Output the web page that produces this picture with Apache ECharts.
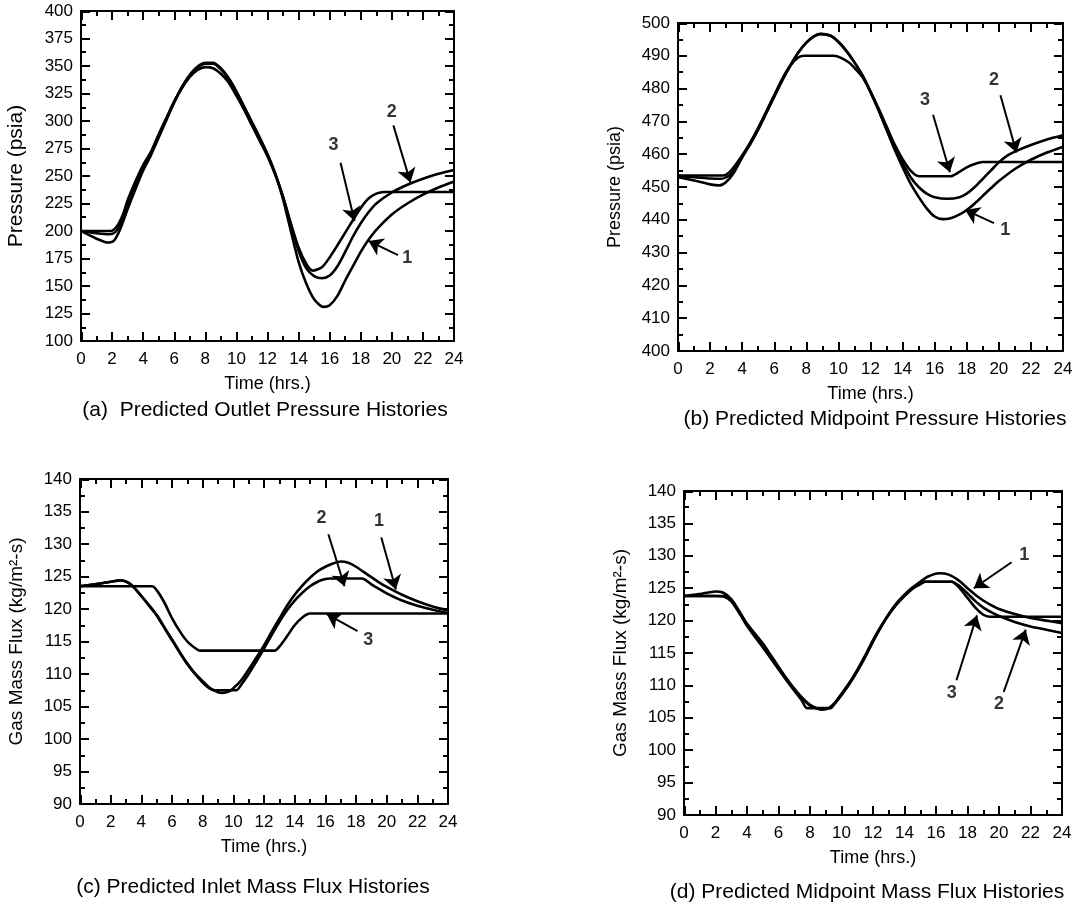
<!DOCTYPE html>
<html>
<head>
  <meta charset="utf-8">
  <title>Predicted Pressure and Mass Flux Histories</title>
  <script src="https://cdn.jsdelivr.net/npm/echarts@6.0.0/dist/echarts.min.js"></script>
  <style>
    html, body { margin: 0; padding: 0; background: #fff; }
    #main { width: 1090px; height: 906px; }
  </style>
</head>
<body>
  <div id="main"></div>
  <script>
    // (a) outlet pressure, psia  [time, value]
    const outlet1 = [[0,200],[0.5,196.5],[1,193],[1.7,189.5],[2.1,191],[2.5,201],[3,220],[3.5,238],[4,255],[4.5,269],[5,285],[5.5,301],[6,317],[6.5,331],[7,342],[7.5,349.5],[8,353],[8.5,353],[9,348],[9.5,339],[10,327],[10.5,313],[11,299],[11.5,285],[12,270],[12.5,252],[13,229],[13.5,200],[14,172],[14.5,152],[15,138],[15.6,131],[16,132.5],[16.5,141],[17,155],[17.5,168],[18,181],[18.5,192],[19,201],[20,215],[21,225],[22,233],[23,239.5],[24,245]];
    const outlet2 = [[0,200],[1,198],[1.8,197],[2.2,199],[2.5,206],[3,225],[3.5,242],[4,258],[4.5,271],[5,287],[5.5,302],[6,317],[6.5,331],[7,341],[7.5,348.5],[8,352],[8.5,352],[9,347],[9.5,338],[10,326],[10.5,312],[11,298],[11.5,284],[12,269],[12.5,252],[13,231],[13.5,206],[14,182],[14.5,166],[15,159],[15.5,157],[16,159.5],[16.5,168],[17,181],[17.5,195],[18,207],[18.5,217],[19,225],[20,235],[21,242],[22,247.5],[23,252],[24,255.5]];
    const outlet3 = [[0,200],[1.9,200],[2.3,204],[2.7,215],[3,228],[3.5,245],[4,260],[4.5,272],[5,288],[5.5,303],[6,318],[6.5,330],[7,340],[7.5,346.5],[8,349],[8.5,348],[9,343],[9.5,335],[10,323],[10.5,310],[11,296],[11.5,282],[12,268],[12.5,251],[13,231],[13.5,207],[14,185],[14.5,170],[14.9,164],[15.5,167],[16,176],[16.5,187],[17,198.5],[17.5,210],[18,221],[18.5,229.5],[19,234],[19.5,235.5],[24,235.5]];

    // (b) midpoint pressure, psia
    const mid1 = [[0,453],[1,452],[2,450.8],[2.6,450.5],[3,451.5],[3.5,454.5],[4,459],[4.5,463],[5,467.5],[5.5,472.5],[6,477.5],[6.5,482.5],[7,487],[7.5,491],[8,494],[8.5,496],[8.9,496.7],[9.5,496.2],[10,494.3],[10.5,491.5],[11,488],[11.5,484],[12,479],[12.5,473.5],[13,467.5],[13.5,461.5],[14,456],[14.5,451],[15,447],[15.5,443.5],[16,441],[16.5,440.2],[17,440.5],[17.5,441.5],[18,443],[18.5,445],[19,447.3],[19.5,449.6],[20,451.8],[21,455.5],[22,458.3],[23,460.5],[24,462.3]];
    const mid2 = [[0,453.3],[1,453],[2,452.6],[2.7,452.5],[3.2,453.5],[3.5,455],[4,459.3],[4.5,463.3],[5,467.8],[5.5,472.7],[6,477.7],[6.5,482.6],[7,487],[7.5,491],[8,494],[8.5,496],[8.9,496.6],[9.5,496.1],[10,494.2],[10.5,491.4],[11,488],[11.5,484],[12,479],[12.5,473.5],[13,467.6],[13.5,462],[14,457.3],[14.5,453],[15,450],[15.5,448],[16,446.9],[16.8,446.4],[17.5,446.8],[18,448],[18.5,450],[19,452.5],[19.5,455],[20,457.5],[20.5,459.5],[21,460.8],[22,462.8],[23,464.5],[24,465.8]];
    const mid3 = [[0,453.5],[2.8,453.5],[3.3,455],[4,459.6],[4.5,463.5],[5,468],[5.5,473],[6,478],[6.5,483],[7,487],[7.5,489.5],[7.9,490],[9.7,490],[10.2,489.3],[10.7,487.8],[11,486.3],[11.5,483.5],[12,479],[12.5,474],[13,468.5],[13.5,463],[14,458.5],[14.5,455],[15,453.3],[17,453.3],[17.5,454.5],[18,456],[18.5,457],[19,457.6],[24,457.6]];

    // (c) inlet mass flux, kg/m2-s
    const inlet1 = [[0,123.5],[1,123.8],[2,124.2],[2.7,124.4],[3.3,123.8],[4,122],[4.5,120.6],[5,119.1],[5.5,117.2],[6,115.3],[6.5,113.4],[7,111.6],[7.5,110.1],[8,108.9],[8.5,107.8],[9,107.2],[9.3,107.1],[9.7,107.3],[10,107.8],[10.5,109],[11,110.7],[11.5,112.5],[12,114.4],[12.5,116.5],[13,118.5],[13.5,120.5],[14,122.2],[14.5,123.6],[15,124.8],[15.5,125.8],[16,126.5],[16.5,127],[17,127.3],[17.5,127.1],[18,126.5],[18.5,125.7],[19,124.9],[19.5,124.1],[20,123.4],[21,122.2],[22,121.2],[23,120.4],[24,119.8]];
    const inlet2 = [[0,123.5],[1,123.8],[2,124.2],[2.7,124.4],[3.3,123.8],[4,122],[4.5,120.5],[5,119],[5.5,117.1],[6,115.2],[6.5,113.3],[7,111.5],[7.5,110],[8,108.7],[8.5,107.7],[8.8,107.5],[10.2,107.5],[10.5,108.3],[11,110],[11.5,111.9],[12,113.9],[12.5,116],[13,118],[13.5,119.8],[14,121.3],[14.5,122.5],[15,123.5],[15.5,124.2],[16,124.6],[16.3,124.7],[18.4,124.7],[19,123.8],[19.5,123.1],[20,122.4],[21,121.3],[22,120.5],[23,119.9],[24,119.4]];
    const inlet3 = [[0,123.5],[4.7,123.5],[5,122.9],[5.5,121],[6,118.6],[6.5,116.6],[7,115],[7.5,114],[7.8,113.6],[12.7,113.6],[13,114.2],[13.5,115.8],[14,117.5],[14.5,118.7],[15,119.3],[24,119.3]];

    // (d) midpoint mass flux, kg/m2-s
    const midFlux1 = [[0,123.8],[1,124.1],[2,124.5],[2.5,124.3],[3,123.3],[3.5,121.5],[4,119.5],[4.5,118],[5,116.5],[5.5,114.7],[6,112.9],[6.5,111.1],[7,109.5],[7.5,108.1],[8,107],[8.5,106.4],[8.8,106.3],[9.2,106.5],[9.6,107.3],[10,108.6],[10.5,110.3],[11,112.2],[11.5,114.4],[12,116.8],[12.5,119],[13,121],[13.5,122.7],[14,124],[14.5,125.1],[15,126],[15.5,126.8],[16.2,127.3],[16.8,127.1],[17.5,126.1],[18,125],[18.5,124],[19,123.1],[19.5,122.4],[20,121.8],[21,121],[22,120.4],[23,120],[24,119.6]];
    const midFlux2 = [[0,123.8],[1,123.8],[2,123.8],[2.5,123.7],[3,123],[3.5,121.3],[4,119.4],[4.5,117.8],[5,116.2],[5.5,114.5],[6,112.7],[6.5,111],[7,109.4],[7.5,108],[8,106.9],[8.5,106.4],[8.8,106.3],[9.2,106.5],[9.6,107.4],[10,108.7],[10.5,110.4],[11,112.4],[11.5,114.6],[12,117],[12.5,119.1],[13,121],[13.5,122.6],[14,123.9],[14.5,125],[15,125.7],[15.3,126],[17,126],[17.5,125.3],[18,124.2],[18.5,123],[19,122],[19.5,121.3],[20,120.7],[21,119.8],[22,119.1],[23,118.6],[24,118.1]];
    const midFlux3 = [[0,123.8],[2.5,123.8],[3,123],[3.5,121.2],[4,119.2],[4.5,117.5],[5,115.9],[5.5,114.2],[6,112.5],[6.5,110.8],[7,109.2],[7.5,107.6],[7.8,106.5],[9.3,106.5],[9.6,107.3],[10,108.5],[10.5,110.2],[11,112.2],[11.5,114.4],[12,116.8],[12.5,119],[13,120.9],[13.5,122.5],[14,123.8],[14.5,124.9],[15,125.6],[15.3,126],[17,126],[17.5,125],[18,123.5],[18.5,122],[19,120.9],[19.4,120.6],[24,120.6]];

    // curve number call-outs: text position, arrow tail, arrow tip (data coords)
    const arrowsOutlet = [
      { name: '3', text: [16.25, 278], from: [16.7, 262], to: [17.6, 209] },
      { name: '2', text: [20.0, 308], from: [20.1, 296], to: [21.2, 244] },
      { name: '1', text: [21.0, 175], from: [20.4, 178], to: [18.5, 191] }
    ];
    const arrowsMid = [
      { name: '3', text: [15.4, 476.5], from: [15.9, 472], to: [16.95, 454.5] },
      { name: '2', text: [19.7, 482.5], from: [20.1, 478], to: [21.1, 460.5] },
      { name: '1', text: [20.4, 437], from: [19.7, 439], to: [17.9, 443] }
    ];
    const arrowsInlet = [
      { name: '2', text: [15.75, 134], from: [16.2, 131.5], to: [17.25, 123.5] },
      { name: '1', text: [19.5, 133.5], from: [19.65, 131], to: [20.6, 123] },
      { name: '3', text: [18.8, 115.3], from: [18.1, 116.6], to: [16.1, 119.2] }
    ];
    const arrowsMidFlux = [
      { name: '1', text: [21.6, 130.1], from: [20.8, 129], to: [18.4, 125] },
      { name: '3', text: [17.0, 108.8], from: [17.3, 110.8], to: [18.6, 120.8] },
      { name: '2', text: [20.0, 107.2], from: [20.3, 109], to: [21.7, 118.6] }
    ];

    const font = "'Liberation Sans', Arial, Helvetica, sans-serif";
    const black = '#000';

    const panels = [
      { grid: { left: 81, top: 11, width: 373, height: 330 }, yMin: 100, yMax: 400, yStep: 25,
        yName: 'Pressure (psia)', yNameSize: 21, lines: [outlet1, outlet2, outlet3], arrows: arrowsOutlet,
        caption: '(a)  Predicted Outlet Pressure Histories', capX: 265, capY: 410 },
      { grid: { left: 678, top: 23, width: 385, height: 328 }, yMin: 400, yMax: 500, yStep: 10,
        yName: 'Pressure (psia)', yNameSize: 18, lines: [mid1, mid2, mid3], arrows: arrowsMid,
        caption: '(b) Predicted Midpoint Pressure Histories', capX: 875, capY: 419 },
      { grid: { left: 80, top: 479, width: 368, height: 325 }, yMin: 90, yMax: 140, yStep: 5,
        yName: 'Gas Mass Flux (kg/m²-s)', yNameSize: 19, lines: [inlet1, inlet2, inlet3], arrows: arrowsInlet,
        caption: '(c) Predicted Inlet Mass Flux Histories', capX: 253, capY: 887 },
      { grid: { left: 684, top: 491, width: 378, height: 324 }, yMin: 90, yMax: 140, yStep: 5,
        yName: 'Gas Mass Flux (kg/m²-s)', yNameSize: 19, lines: [midFlux1, midFlux2, midFlux3], arrows: arrowsMidFlux,
        caption: '(d) Predicted Midpoint Mass Flux Histories', capX: 867, capY: 892 }
    ];

    function frame(extra) {
      return Object.assign({
        type: 'value',
        axisLine: { show: true, onZero: false, lineStyle: { color: black, width: 2 } },
        axisTick: { show: false },
        minorTick: { show: false },
        splitLine: { show: false }
      }, extra);
    }

    // inward frame ticks on all four sides (major every step, minor halfway),
    // drawn as short mark lines. Pixel lengths are turned into axis units and
    // every end is kept a hair inside the frame so the marker filter keeps it.
    function tickSegments(p) {
      const segs = [];
      const dx = px => px * 24 / p.grid.width;
      const dy = px => px * (p.yMax - p.yMin) / p.grid.height;
      const add = (a, b) => segs.push([{ coord: a }, { coord: b }]);
      const ex = dx(0.3), ey = dy(0.3);
      for (let k = 0; k <= 24; k++) {
        const len = k % 2 === 0 ? 9 : 5;
        const t = Math.min(Math.max(k, ex), 24 - ex);
        add([t, p.yMin + ey], [t, p.yMin + dy(len)]);
        add([t, p.yMax - ey], [t, p.yMax - dy(len)]);
      }
      const n = Math.round((p.yMax - p.yMin) / p.yStep) * 2;
      for (let k = 0; k <= n; k++) {
        const v = Math.min(Math.max(p.yMin + k * p.yStep / 2, p.yMin + ey), p.yMax - ey);
        const len = k % 2 === 0 ? 9 : 5;
        add([ex, v], [dx(len), v]);
        add([24 - ex, v], [24 - dx(len), v]);
      }
      return segs;
    }

    const grids = [], xAxes = [], yAxes = [], series = [];

    panels.forEach((p, i) => {
      grids.push(Object.assign({ containLabel: false }, p.grid));
      xAxes.push(frame({
        gridIndex: i, position: 'bottom', min: 0, max: 24, interval: 2,
        axisLabel: { color: black, fontSize: 17, fontFamily: font, margin: 10 },
        name: 'Time (hrs.)', nameLocation: 'middle', nameGap: 34,
        nameTextStyle: { color: black, fontSize: 18, fontFamily: font }
      }));
      xAxes.push(frame({
        gridIndex: i, position: 'top', min: 0, max: 24, interval: 2, axisLabel: { show: false }
      }));
      yAxes.push(frame({
        gridIndex: i, position: 'left', min: p.yMin, max: p.yMax, interval: p.yStep,
        axisLabel: { color: black, fontSize: 17, fontFamily: font, margin: 8 },
        name: p.yName, nameLocation: 'middle', nameGap: 54,
        nameTextStyle: { color: black, fontSize: p.yNameSize, fontFamily: font }
      }));
      yAxes.push(frame({
        gridIndex: i, position: 'right', min: p.yMin, max: p.yMax, interval: p.yStep, axisLabel: { show: false }
      }));

      p.lines.forEach(d => {
        series.push({
          type: 'line', xAxisIndex: 2 * i, yAxisIndex: 2 * i, data: d,
          showSymbol: false, smooth: 0.25, silent: true,
          lineStyle: { color: black, width: 2.6 }
        });
      });

      // call-out numbers, arrows and frame ticks
      series.push({
        type: 'scatter', xAxisIndex: 2 * i, yAxisIndex: 2 * i, symbolSize: 0, silent: true,
        data: p.arrows.map(a => ({ name: a.name, value: a.text })),
        label: { show: true, position: 'inside', formatter: '{b}', color: black,
                 fontSize: 18, fontWeight: 'bold', fontFamily: font },
        markLine: {
          silent: true, symbol: ['none', 'arrow'], symbolSize: 14, animation: false,
          lineStyle: { color: black, width: 2, type: 'solid' },
          label: { show: false },
          data: p.arrows.map(a => [{ coord: a.from }, { coord: a.to }])
        }
      });
      series.push({
        type: 'scatter', xAxisIndex: 2 * i, yAxisIndex: 2 * i, symbolSize: 0, silent: true,
        data: [p.arrows[0].text],
        markLine: {
          silent: true, symbol: ['none', 'none'], animation: false, precision: 8,
          lineStyle: { color: black, width: 2, type: 'solid' },
          label: { show: false },
          data: tickSegments(p)
        }
      });
    });

    const chart = echarts.init(document.getElementById('main'));
    chart.setOption({
      backgroundColor: '#fff',
      animation: false,
      grid: grids,
      xAxis: xAxes,
      yAxis: yAxes,
      series: series,
      graphic: panels.map(p => ({
        type: 'text', x: p.capX, y: p.capY, silent: true,
        style: { text: p.caption, fill: black, font: '21px ' + font, align: 'center', verticalAlign: 'middle' }
      }))
    });
  </script>
</body>
</html>
